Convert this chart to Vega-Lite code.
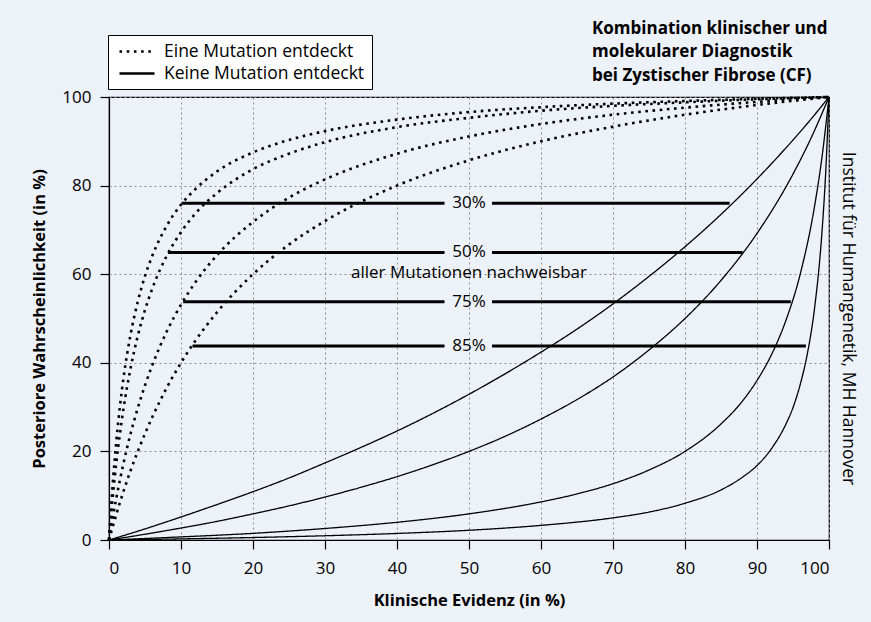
{
  "$schema": "https://vega.github.io/schema/vega-lite/v6.json",
  "width": 720,
  "height": 443,
  "autosize": {"type": "none"},
  "padding": {"left": 109, "top": 97, "right": 42, "bottom": 82},
  "background": "#edf1f8",
  "title": {
    "text": ["Kombination klinischer und", "molekularer Diagnostik", "bei Zystischer Fibrose (CF)"],
    "anchor": "start",
    "frame": "group",
    "dx": 483,
    "offset": -50,
    "font": "Open Sans",
    "fontSize": 17,
    "fontWeight": "bold",
    "color": "black",
    "lineHeight": 23.5
  },
  "config": {
    "font": "Open Sans",
    "view": {"stroke": "black", "strokeWidth": 1.2},
    "axis": {
      "labelFont": "Open Sans",
      "labelFontSize": 17,
      "labelColor": "black",
      "titleFont": "Open Sans",
      "titleFontSize": 16.5,
      "titleFontWeight": "bold",
      "titleColor": "black",
      "domainColor": "black",
      "domainWidth": 1.2,
      "tickColor": "black",
      "tickWidth": 1.2,
      "gridColor": "#8c8c8c",
      "gridDash": [2, 3],
      "gridWidth": 1
    }
  },
  "datasets": {
    "curves": [
      {"t": "Eine Mutation entdeckt", "d": "30%", "x": 0, "y": 0},
      {"t": "Eine Mutation entdeckt", "d": "30%", "x": 0.25, "y": 6.6},
      {"t": "Eine Mutation entdeckt", "d": "30%", "x": 0.5, "y": 12.3},
      {"t": "Eine Mutation entdeckt", "d": "30%", "x": 1, "y": 22.0},
      {"t": "Eine Mutation entdeckt", "d": "30%", "x": 1.5, "y": 29.9},
      {"t": "Eine Mutation entdeckt", "d": "30%", "x": 2, "y": 36.4},
      {"t": "Eine Mutation entdeckt", "d": "30%", "x": 3, "y": 46.4},
      {"t": "Eine Mutation entdeckt", "d": "30%", "x": 4, "y": 53.8},
      {"t": "Eine Mutation entdeckt", "d": "30%", "x": 5, "y": 59.6},
      {"t": "Eine Mutation entdeckt", "d": "30%", "x": 6, "y": 64.1},
      {"t": "Eine Mutation entdeckt", "d": "30%", "x": 8, "y": 70.9},
      {"t": "Eine Mutation entdeckt", "d": "30%", "x": 10, "y": 75.7},
      {"t": "Eine Mutation entdeckt", "d": "30%", "x": 12, "y": 79.2},
      {"t": "Eine Mutation entdeckt", "d": "30%", "x": 15, "y": 83.2},
      {"t": "Eine Mutation entdeckt", "d": "30%", "x": 20, "y": 87.5},
      {"t": "Eine Mutation entdeckt", "d": "30%", "x": 25, "y": 90.3},
      {"t": "Eine Mutation entdeckt", "d": "30%", "x": 30, "y": 92.3},
      {"t": "Eine Mutation entdeckt", "d": "30%", "x": 40, "y": 94.9},
      {"t": "Eine Mutation entdeckt", "d": "30%", "x": 50, "y": 96.6},
      {"t": "Eine Mutation entdeckt", "d": "30%", "x": 60, "y": 97.7},
      {"t": "Eine Mutation entdeckt", "d": "30%", "x": 70, "y": 98.5},
      {"t": "Eine Mutation entdeckt", "d": "30%", "x": 80, "y": 99.1},
      {"t": "Eine Mutation entdeckt", "d": "30%", "x": 90, "y": 99.6},
      {"t": "Eine Mutation entdeckt", "d": "30%", "x": 100, "y": 100},

      {"t": "Eine Mutation entdeckt", "d": "50%", "x": 0, "y": 0},
      {"t": "Eine Mutation entdeckt", "d": "50%", "x": 0.25, "y": 4.9},
      {"t": "Eine Mutation entdeckt", "d": "50%", "x": 0.5, "y": 9.3},
      {"t": "Eine Mutation entdeckt", "d": "50%", "x": 1, "y": 17.2},
      {"t": "Eine Mutation entdeckt", "d": "50%", "x": 1.5, "y": 23.8},
      {"t": "Eine Mutation entdeckt", "d": "50%", "x": 2, "y": 29.5},
      {"t": "Eine Mutation entdeckt", "d": "50%", "x": 3, "y": 38.8},
      {"t": "Eine Mutation entdeckt", "d": "50%", "x": 4, "y": 46.1},
      {"t": "Eine Mutation entdeckt", "d": "50%", "x": 5, "y": 51.9},
      {"t": "Eine Mutation entdeckt", "d": "50%", "x": 6, "y": 56.7},
      {"t": "Eine Mutation entdeckt", "d": "50%", "x": 8, "y": 64.1},
      {"t": "Eine Mutation entdeckt", "d": "50%", "x": 10, "y": 69.5},
      {"t": "Eine Mutation entdeckt", "d": "50%", "x": 12, "y": 73.7},
      {"t": "Eine Mutation entdeckt", "d": "50%", "x": 15, "y": 78.3},
      {"t": "Eine Mutation entdeckt", "d": "50%", "x": 20, "y": 83.7},
      {"t": "Eine Mutation entdeckt", "d": "50%", "x": 25, "y": 87.2},
      {"t": "Eine Mutation entdeckt", "d": "50%", "x": 30, "y": 89.8},
      {"t": "Eine Mutation entdeckt", "d": "50%", "x": 40, "y": 93.2},
      {"t": "Eine Mutation entdeckt", "d": "50%", "x": 50, "y": 95.3},
      {"t": "Eine Mutation entdeckt", "d": "50%", "x": 60, "y": 96.9},
      {"t": "Eine Mutation entdeckt", "d": "50%", "x": 70, "y": 98.0},
      {"t": "Eine Mutation entdeckt", "d": "50%", "x": 80, "y": 98.8},
      {"t": "Eine Mutation entdeckt", "d": "50%", "x": 90, "y": 99.5},
      {"t": "Eine Mutation entdeckt", "d": "50%", "x": 100, "y": 100},

      {"t": "Eine Mutation entdeckt", "d": "75%", "x": 0, "y": 0},
      {"t": "Eine Mutation entdeckt", "d": "75%", "x": 0.25, "y": 2.5},
      {"t": "Eine Mutation entdeckt", "d": "75%", "x": 0.5, "y": 4.9},
      {"t": "Eine Mutation entdeckt", "d": "75%", "x": 1, "y": 9.3},
      {"t": "Eine Mutation entdeckt", "d": "75%", "x": 1.5, "y": 13.4},
      {"t": "Eine Mutation entdeckt", "d": "75%", "x": 2, "y": 17.2},
      {"t": "Eine Mutation entdeckt", "d": "75%", "x": 3, "y": 24.0},
      {"t": "Eine Mutation entdeckt", "d": "75%", "x": 4, "y": 29.8},
      {"t": "Eine Mutation entdeckt", "d": "75%", "x": 5, "y": 34.9},
      {"t": "Eine Mutation entdeckt", "d": "75%", "x": 6, "y": 39.4},
      {"t": "Eine Mutation entdeckt", "d": "75%", "x": 8, "y": 47.0},
      {"t": "Eine Mutation entdeckt", "d": "75%", "x": 10, "y": 53.1},
      {"t": "Eine Mutation entdeckt", "d": "75%", "x": 12, "y": 58.2},
      {"t": "Eine Mutation entdeckt", "d": "75%", "x": 15, "y": 64.3},
      {"t": "Eine Mutation entdeckt", "d": "75%", "x": 20, "y": 71.8},
      {"t": "Eine Mutation entdeckt", "d": "75%", "x": 25, "y": 77.3},
      {"t": "Eine Mutation entdeckt", "d": "75%", "x": 30, "y": 81.4},
      {"t": "Eine Mutation entdeckt", "d": "75%", "x": 40, "y": 87.2},
      {"t": "Eine Mutation entdeckt", "d": "75%", "x": 50, "y": 91.1},
      {"t": "Eine Mutation entdeckt", "d": "75%", "x": 60, "y": 93.9},
      {"t": "Eine Mutation entdeckt", "d": "75%", "x": 70, "y": 96.0},
      {"t": "Eine Mutation entdeckt", "d": "75%", "x": 80, "y": 97.6},
      {"t": "Eine Mutation entdeckt", "d": "75%", "x": 90, "y": 98.9},
      {"t": "Eine Mutation entdeckt", "d": "75%", "x": 100, "y": 100},

      {"t": "Eine Mutation entdeckt", "d": "85%", "x": 0, "y": 0},
      {"t": "Eine Mutation entdeckt", "d": "85%", "x": 0.25, "y": 1.5},
      {"t": "Eine Mutation entdeckt", "d": "85%", "x": 0.5, "y": 2.9},
      {"t": "Eine Mutation entdeckt", "d": "85%", "x": 1, "y": 5.7},
      {"t": "Eine Mutation entdeckt", "d": "85%", "x": 1.5, "y": 8.4},
      {"t": "Eine Mutation entdeckt", "d": "85%", "x": 2, "y": 10.9},
      {"t": "Eine Mutation entdeckt", "d": "85%", "x": 3, "y": 15.7},
      {"t": "Eine Mutation entdeckt", "d": "85%", "x": 4, "y": 20.0},
      {"t": "Eine Mutation entdeckt", "d": "85%", "x": 5, "y": 24.0},
      {"t": "Eine Mutation entdeckt", "d": "85%", "x": 6, "y": 27.7},
      {"t": "Eine Mutation entdeckt", "d": "85%", "x": 8, "y": 34.3},
      {"t": "Eine Mutation entdeckt", "d": "85%", "x": 10, "y": 40.0},
      {"t": "Eine Mutation entdeckt", "d": "85%", "x": 12, "y": 45.0},
      {"t": "Eine Mutation entdeckt", "d": "85%", "x": 15, "y": 51.4},
      {"t": "Eine Mutation entdeckt", "d": "85%", "x": 20, "y": 60.0},
      {"t": "Eine Mutation entdeckt", "d": "85%", "x": 25, "y": 66.7},
      {"t": "Eine Mutation entdeckt", "d": "85%", "x": 30, "y": 72.0},
      {"t": "Eine Mutation entdeckt", "d": "85%", "x": 40, "y": 80.0},
      {"t": "Eine Mutation entdeckt", "d": "85%", "x": 50, "y": 85.7},
      {"t": "Eine Mutation entdeckt", "d": "85%", "x": 60, "y": 90.0},
      {"t": "Eine Mutation entdeckt", "d": "85%", "x": 70, "y": 93.3},
      {"t": "Eine Mutation entdeckt", "d": "85%", "x": 80, "y": 96.0},
      {"t": "Eine Mutation entdeckt", "d": "85%", "x": 90, "y": 98.2},
      {"t": "Eine Mutation entdeckt", "d": "85%", "x": 100, "y": 100},

      {"t": "Keine Mutation entdeckt", "d": "30%", "x": 0, "y": 0},
      {"t": "Keine Mutation entdeckt", "d": "30%", "x": 5, "y": 2.5},
      {"t": "Keine Mutation entdeckt", "d": "30%", "x": 10, "y": 5.2},
      {"t": "Keine Mutation entdeckt", "d": "30%", "x": 15, "y": 8.0},
      {"t": "Keine Mutation entdeckt", "d": "30%", "x": 20, "y": 10.9},
      {"t": "Keine Mutation entdeckt", "d": "30%", "x": 25, "y": 14.0},
      {"t": "Keine Mutation entdeckt", "d": "30%", "x": 30, "y": 17.4},
      {"t": "Keine Mutation entdeckt", "d": "30%", "x": 35, "y": 20.9},
      {"t": "Keine Mutation entdeckt", "d": "30%", "x": 40, "y": 24.6},
      {"t": "Keine Mutation entdeckt", "d": "30%", "x": 45, "y": 28.6},
      {"t": "Keine Mutation entdeckt", "d": "30%", "x": 50, "y": 32.9},
      {"t": "Keine Mutation entdeckt", "d": "30%", "x": 55, "y": 37.5},
      {"t": "Keine Mutation entdeckt", "d": "30%", "x": 60, "y": 42.4},
      {"t": "Keine Mutation entdeckt", "d": "30%", "x": 65, "y": 47.6},
      {"t": "Keine Mutation entdeckt", "d": "30%", "x": 70, "y": 53.3},
      {"t": "Keine Mutation entdeckt", "d": "30%", "x": 75, "y": 59.5},
      {"t": "Keine Mutation entdeckt", "d": "30%", "x": 80, "y": 66.2},
      {"t": "Keine Mutation entdeckt", "d": "30%", "x": 85, "y": 73.5},
      {"t": "Keine Mutation entdeckt", "d": "30%", "x": 90, "y": 81.5},
      {"t": "Keine Mutation entdeckt", "d": "30%", "x": 95, "y": 90.3},
      {"t": "Keine Mutation entdeckt", "d": "30%", "x": 97.5, "y": 95.0},
      {"t": "Keine Mutation entdeckt", "d": "30%", "x": 100, "y": 100},

      {"t": "Keine Mutation entdeckt", "d": "50%", "x": 0, "y": 0},
      {"t": "Keine Mutation entdeckt", "d": "50%", "x": 5, "y": 1.3},
      {"t": "Keine Mutation entdeckt", "d": "50%", "x": 10, "y": 2.7},
      {"t": "Keine Mutation entdeckt", "d": "50%", "x": 15, "y": 4.2},
      {"t": "Keine Mutation entdeckt", "d": "50%", "x": 20, "y": 5.9},
      {"t": "Keine Mutation entdeckt", "d": "50%", "x": 25, "y": 7.7},
      {"t": "Keine Mutation entdeckt", "d": "50%", "x": 30, "y": 9.7},
      {"t": "Keine Mutation entdeckt", "d": "50%", "x": 35, "y": 11.9},
      {"t": "Keine Mutation entdeckt", "d": "50%", "x": 40, "y": 14.3},
      {"t": "Keine Mutation entdeckt", "d": "50%", "x": 45, "y": 17.0},
      {"t": "Keine Mutation entdeckt", "d": "50%", "x": 50, "y": 20.0},
      {"t": "Keine Mutation entdeckt", "d": "50%", "x": 55, "y": 23.4},
      {"t": "Keine Mutation entdeckt", "d": "50%", "x": 60, "y": 27.3},
      {"t": "Keine Mutation entdeckt", "d": "50%", "x": 65, "y": 31.7},
      {"t": "Keine Mutation entdeckt", "d": "50%", "x": 70, "y": 36.8},
      {"t": "Keine Mutation entdeckt", "d": "50%", "x": 75, "y": 42.9},
      {"t": "Keine Mutation entdeckt", "d": "50%", "x": 80, "y": 50.0},
      {"t": "Keine Mutation entdeckt", "d": "50%", "x": 85, "y": 58.6},
      {"t": "Keine Mutation entdeckt", "d": "50%", "x": 90, "y": 69.2},
      {"t": "Keine Mutation entdeckt", "d": "50%", "x": 95, "y": 82.6},
      {"t": "Keine Mutation entdeckt", "d": "50%", "x": 97.5, "y": 90.7},
      {"t": "Keine Mutation entdeckt", "d": "50%", "x": 100, "y": 100},

      {"t": "Keine Mutation entdeckt", "d": "75%", "x": 0, "y": 0},
      {"t": "Keine Mutation entdeckt", "d": "75%", "x": 10, "y": 0.7},
      {"t": "Keine Mutation entdeckt", "d": "75%", "x": 20, "y": 1.5},
      {"t": "Keine Mutation entdeckt", "d": "75%", "x": 30, "y": 2.6},
      {"t": "Keine Mutation entdeckt", "d": "75%", "x": 40, "y": 4.0},
      {"t": "Keine Mutation entdeckt", "d": "75%", "x": 50, "y": 5.9},
      {"t": "Keine Mutation entdeckt", "d": "75%", "x": 60, "y": 8.6},
      {"t": "Keine Mutation entdeckt", "d": "75%", "x": 65, "y": 10.4},
      {"t": "Keine Mutation entdeckt", "d": "75%", "x": 70, "y": 12.7},
      {"t": "Keine Mutation entdeckt", "d": "75%", "x": 75, "y": 15.8},
      {"t": "Keine Mutation entdeckt", "d": "75%", "x": 80, "y": 20.0},
      {"t": "Keine Mutation entdeckt", "d": "75%", "x": 85, "y": 26.2},
      {"t": "Keine Mutation entdeckt", "d": "75%", "x": 88, "y": 31.4},
      {"t": "Keine Mutation entdeckt", "d": "75%", "x": 90, "y": 36.0},
      {"t": "Keine Mutation entdeckt", "d": "75%", "x": 92, "y": 41.8},
      {"t": "Keine Mutation entdeckt", "d": "75%", "x": 94, "y": 49.5},
      {"t": "Keine Mutation entdeckt", "d": "75%", "x": 96, "y": 60.0},
      {"t": "Keine Mutation entdeckt", "d": "75%", "x": 98, "y": 75.4},
      {"t": "Keine Mutation entdeckt", "d": "75%", "x": 99, "y": 86.1},
      {"t": "Keine Mutation entdeckt", "d": "75%", "x": 100, "y": 100},

      {"t": "Keine Mutation entdeckt", "d": "85%", "x": 0, "y": 0},
      {"t": "Keine Mutation entdeckt", "d": "85%", "x": 10, "y": 0.25},
      {"t": "Keine Mutation entdeckt", "d": "85%", "x": 20, "y": 0.56},
      {"t": "Keine Mutation entdeckt", "d": "85%", "x": 30, "y": 0.96},
      {"t": "Keine Mutation entdeckt", "d": "85%", "x": 40, "y": 1.48},
      {"t": "Keine Mutation entdeckt", "d": "85%", "x": 50, "y": 2.2},
      {"t": "Keine Mutation entdeckt", "d": "85%", "x": 60, "y": 3.3},
      {"t": "Keine Mutation entdeckt", "d": "85%", "x": 70, "y": 5.0},
      {"t": "Keine Mutation entdeckt", "d": "85%", "x": 75, "y": 6.3},
      {"t": "Keine Mutation entdeckt", "d": "85%", "x": 80, "y": 8.3},
      {"t": "Keine Mutation entdeckt", "d": "85%", "x": 85, "y": 11.3},
      {"t": "Keine Mutation entdeckt", "d": "85%", "x": 88, "y": 14.2},
      {"t": "Keine Mutation entdeckt", "d": "85%", "x": 90, "y": 16.8},
      {"t": "Keine Mutation entdeckt", "d": "85%", "x": 92, "y": 20.6},
      {"t": "Keine Mutation entdeckt", "d": "85%", "x": 94, "y": 26.1},
      {"t": "Keine Mutation entdeckt", "d": "85%", "x": 95, "y": 29.9},
      {"t": "Keine Mutation entdeckt", "d": "85%", "x": 96, "y": 35.1},
      {"t": "Keine Mutation entdeckt", "d": "85%", "x": 97, "y": 42.1},
      {"t": "Keine Mutation entdeckt", "d": "85%", "x": 98, "y": 52.4},
      {"t": "Keine Mutation entdeckt", "d": "85%", "x": 99, "y": 69.0},
      {"t": "Keine Mutation entdeckt", "d": "85%", "x": 99.5, "y": 81.7},
      {"t": "Keine Mutation entdeckt", "d": "85%", "x": 100, "y": 100}
    ],
    "segments": [
      {"label": "30%", "y": 76.0, "xa": 10.1, "xb": 46.6},
      {"label": "30%", "y": 76.0, "xa": 53.2, "xb": 86.2},
      {"label": "50%", "y": 64.9, "xa": 8.2, "xb": 46.6},
      {"label": "50%", "y": 64.9, "xa": 53.2, "xb": 88.0},
      {"label": "75%", "y": 53.8, "xa": 10.3, "xb": 46.6},
      {"label": "75%", "y": 53.8, "xa": 53.2, "xb": 94.7},
      {"label": "85%", "y": 43.8, "xa": 11.6, "xb": 46.6},
      {"label": "85%", "y": 43.8, "xa": 53.2, "xb": 96.8}
    ],
    "labels": [
      {"text": "30%", "x": 50, "y": 76.0},
      {"text": "50%", "x": 50, "y": 64.9},
      {"text": "aller Mutationen nachweisbar", "x": 50, "y": 60.3},
      {"text": "75%", "x": 50, "y": 53.8},
      {"text": "85%", "x": 50, "y": 43.8}
    ],
    "source": [
      {"text": "Institut für Humangenetik, MH Hannover", "x": 100, "y": 50}
    ]
  },
  "layer": [
    {
      "data": {"name": "curves"},
      "transform": [{"filter": "datum.t === 'Eine Mutation entdeckt'"}],
      "mark": {"type": "line", "color": "black", "strokeWidth": 2.6, "strokeCap": "butt", "interpolate": "monotone"},
      "encoding": {
        "x": {
          "field": "x", "type": "quantitative",
          "scale": {"domain": [0, 100], "nice": false, "zero": false},
          "axis": {"values": [0, 10, 20, 30, 40, 50, 60, 70, 80, 90, 100], "title": "Klinische Evidenz (in %)", "tickSize": 9, "labelPadding": 11, "titlePadding": 16, "grid": true}
        },
        "y": {
          "field": "y", "type": "quantitative",
          "scale": {"domain": [0, 100], "nice": false, "zero": false},
          "axis": {"values": [0, 20, 40, 60, 80, 100], "title": "Posteriore Wahrscheinlichkeit (in %)", "tickSize": 9, "labelPadding": 9, "titlePadding": 14, "grid": true}
        },
        "detail": {"field": "d", "type": "nominal"},
        "strokeDash": {
          "field": "t", "type": "nominal",
          "scale": {"domain": ["Eine Mutation entdeckt", "Keine Mutation entdeckt"], "range": [[2.6, 4.6], [1, 0]]},
          "legend": {
            "title": null,
            "orient": "none",
            "legendX": -1,
            "legendY": -62,
            "fillColor": "white",
            "strokeColor": "black",
            "padding": 7,
            "labelFont": "Open Sans",
            "labelFontSize": 17.5,
            "labelColor": "black",
            "labelLimit": 400,
            "symbolType": "M-0.625,0H3.75",
            "symbolSize": 256,
            "symbolStrokeWidth": 2.6,
            "symbolStrokeColor": "black",
            "labelOffset": 30,
            "rowPadding": 4
          }
        }
      }
    },
    {
      "data": {"name": "curves"},
      "transform": [{"filter": "datum.t === 'Keine Mutation entdeckt'"}],
      "mark": {"type": "line", "color": "black", "strokeWidth": 1.3, "interpolate": "monotone"},
      "encoding": {
        "x": {"field": "x", "type": "quantitative"},
        "y": {"field": "y", "type": "quantitative"},
        "detail": {"field": "d", "type": "nominal"},
        "strokeDash": {"field": "t", "type": "nominal"}
      }
    },
    {
      "data": {"name": "segments"},
      "mark": {"type": "rule", "color": "black", "strokeWidth": 3},
      "encoding": {
        "x": {"field": "xa", "type": "quantitative"},
        "x2": {"field": "xb"},
        "y": {"field": "y", "type": "quantitative"}
      }
    },
    {
      "data": {"name": "labels"},
      "mark": {"type": "text", "color": "black", "fontSize": 17, "font": "Open Sans", "align": "center", "baseline": "middle"},
      "encoding": {
        "x": {"field": "x", "type": "quantitative"},
        "y": {"field": "y", "type": "quantitative"},
        "text": {"field": "text", "type": "nominal"}
      }
    },
    {
      "data": {"name": "source"},
      "mark": {"type": "text", "color": "black", "fontSize": 17.5, "font": "Open Sans", "align": "center", "baseline": "middle", "angle": 90, "dy": -18.5},
      "encoding": {
        "x": {"field": "x", "type": "quantitative"},
        "y": {"field": "y", "type": "quantitative"},
        "text": {"field": "text", "type": "nominal"}
      }
    }
  ]
}
